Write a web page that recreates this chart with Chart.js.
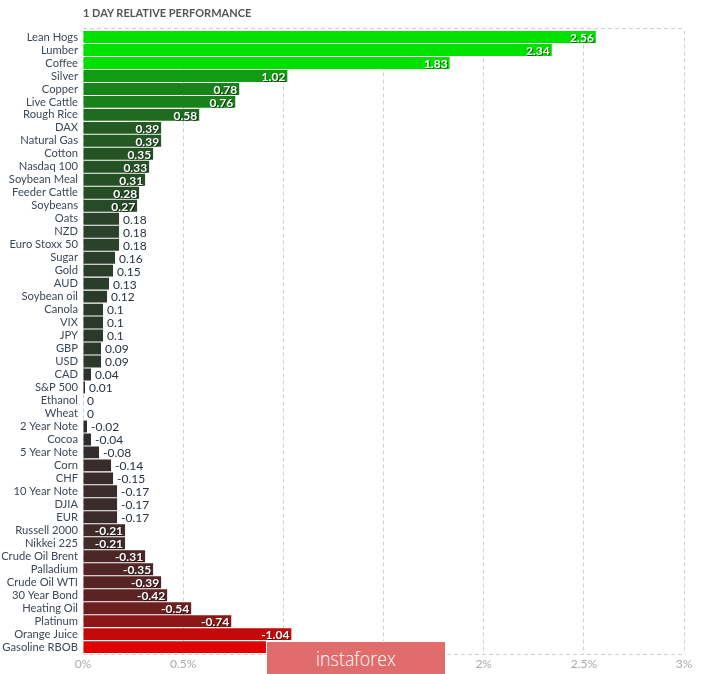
<!DOCTYPE html>
<html>
<head>
<meta charset="utf-8">
<title>1 Day Relative Performance</title>
<script src="https://cdn.jsdelivr.net/npm/chart.js@4.4.1/dist/chart.umd.min.js"></script>
<style>
  html, body { margin: 0; padding: 0; background: #fff; }
  #wrap { position: relative; width: 712px; height: 674px; overflow: hidden; }
  #title { position: absolute; left: 83px; top: 6px; font: bold 11px Lato, sans-serif; color: #555; }
  #mark { position: absolute; left: 266px; top: 641px; width: 178px; height: 32px; background: #e06c6c;
          border: 1px solid #fff; color: #fff; font: 300 21px "Open Sans", sans-serif; text-align: center;
          line-height: 32px; }
  #mark span { display: inline-block; transform: scaleX(0.85); }
</style>
</head>
<body>
<div id="wrap">
  <canvas id="perf"></canvas>
  <div id="title">1 DAY RELATIVE PERFORMANCE</div>
  <div id="mark"><span>instaforex</span></div>
</div>
<script>
const instruments = [
  "Lean Hogs", "Lumber", "Coffee", "Silver", "Copper", "Live Cattle", "Rough Rice", "DAX",
  "Natural Gas", "Cotton", "Nasdaq 100", "Soybean Meal", "Feeder Cattle", "Soybeans", "Oats", "NZD",
  "Euro Stoxx 50", "Sugar", "Gold", "AUD", "Soybean oil", "Canola", "VIX", "JPY",
  "GBP", "USD", "CAD", "S&P 500", "Ethanol", "Wheat", "2 Year Note", "Cocoa",
  "5 Year Note", "Corn", "CHF", "10 Year Note", "DJIA", "EUR", "Russell 2000", "Nikkei 225",
  "Crude Oil Brent", "Palladium", "Crude Oil WTI", "30 Year Bond", "Heating Oil", "Platinum", "Orange Juice", "Gasoline RBOB"
];
const changes = [
  2.56, 2.34, 1.83, 1.02, 0.78, 0.76, 0.58, 0.39,
  0.39, 0.35, 0.33, 0.31, 0.28, 0.27, 0.18, 0.18,
  0.18, 0.16, 0.15, 0.13, 0.12, 0.1, 0.1, 0.1,
  0.09, 0.09, 0.04, 0.01, 0, 0, -0.02, -0.04,
  -0.08, -0.14, -0.15, -0.17, -0.17, -0.17, -0.21, -0.21,
  -0.31, -0.35, -0.39, -0.42, -0.54, -0.74, -1.04, -1.2
];
const xTicks = [0, 0.5, 1, 1.5, 2, 2.5, 3];

// dark grey at zero, fading to green / red as the move grows
function barColor(v) {
  const base = 46;
  if (v >= 0) {
    const t = Math.min(1, v / 1.64);
    const rb = Math.round(base * (1 - t));
    const g = Math.round(base + (225 - base) * t);
    return `rgb(${rb},${g},${rb})`;
  }
  const t = Math.min(1, 0.76 * Math.pow(-v, 1.33));
  const gb = Math.round(base * (1 - t));
  const r = Math.round(base + (232 - base) * t);
  return `rgb(${r},${gb},${gb})`;
}

const frameLines = {
  id: "frameLines",
  beforeDatasetsDraw(chart) {
    const { ctx, chartArea } = chart;
    ctx.save();
    ctx.strokeStyle = "#d0d0d0";
    ctx.lineWidth = 1;
    ctx.setLineDash([4, 3]);
    [Math.round(chartArea.top) - 2.5, Math.round(chartArea.bottom) + 0.5].forEach(y => {
      ctx.beginPath();
      ctx.moveTo(chartArea.left, y);
      ctx.lineTo(chartArea.right, y);
      ctx.stroke();
    });
    ctx.restore();
  }
};

const valueLabels = {
  id: "valueLabels",
  afterDatasetsDraw(chart) {
    const ctx = chart.ctx;
    const meta = chart.getDatasetMeta(0);
    ctx.save();
    ctx.textBaseline = "middle";
    meta.data.forEach((bar, i) => {
      const v = changes[i];
      const txt = String(v);
      if (Math.abs(v) >= 0.2) {
        ctx.font = "bold 12px Lato";
        ctx.textAlign = "right";
        ctx.fillStyle = "#fff";
        ctx.shadowColor = "rgba(0,0,0,0.55)";
        ctx.shadowOffsetX = 1;
        ctx.shadowOffsetY = 1;
        ctx.fillText(txt, bar.x - 2, bar.y + 1);
      } else {
        ctx.font = "12px Lato";
        ctx.textAlign = "left";
        ctx.fillStyle = "#263340";
        ctx.shadowColor = "transparent";
        ctx.fillText(txt, bar.x + 4, bar.y + 1);
      }
    });
    ctx.restore();
  }
};

new Chart(document.getElementById("perf"), {
  type: "bar",
  data: {
    labels: instruments,
    datasets: [{
      data: changes.map(v => Math.abs(v)),
      backgroundColor: changes.map(barColor),
      barPercentage: 0.92,
      categoryPercentage: 1
    }]
  },
  options: {
    indexAxis: "y",
    responsive: true,
    maintainAspectRatio: false,
    animation: false,
    layout: { padding: { top: 30.5, right: 28, bottom: 0, left: 0 } },
    plugins: { legend: { display: false }, tooltip: { enabled: false } },
    scales: {
      x: {
        min: 0,
        max: 3,
        afterBuildTicks: scale => { scale.ticks = xTicks.map(v => ({ value: v })); },
        ticks: {
          callback: v => v + "%",
          color: "#aaa",
          font: { family: "Lato", size: 12 },
          padding: 3,
          maxRotation: 0
        },
        grid: { color: "#d0d0d0", drawTicks: false },
        border: { display: false, dash: [4, 3] }
      },
      y: {
        afterFit: scale => { scale.width = 83; },
        ticks: {
          autoSkip: false,
          color: "#3c4758",
          font: { family: "Lato", size: 11.2 },
          padding: 5
        },
        grid: { display: false, drawTicks: false },
        border: { display: false }
      }
    }
  },
  plugins: [frameLines, valueLabels]
});
</script>
</body>
</html>
